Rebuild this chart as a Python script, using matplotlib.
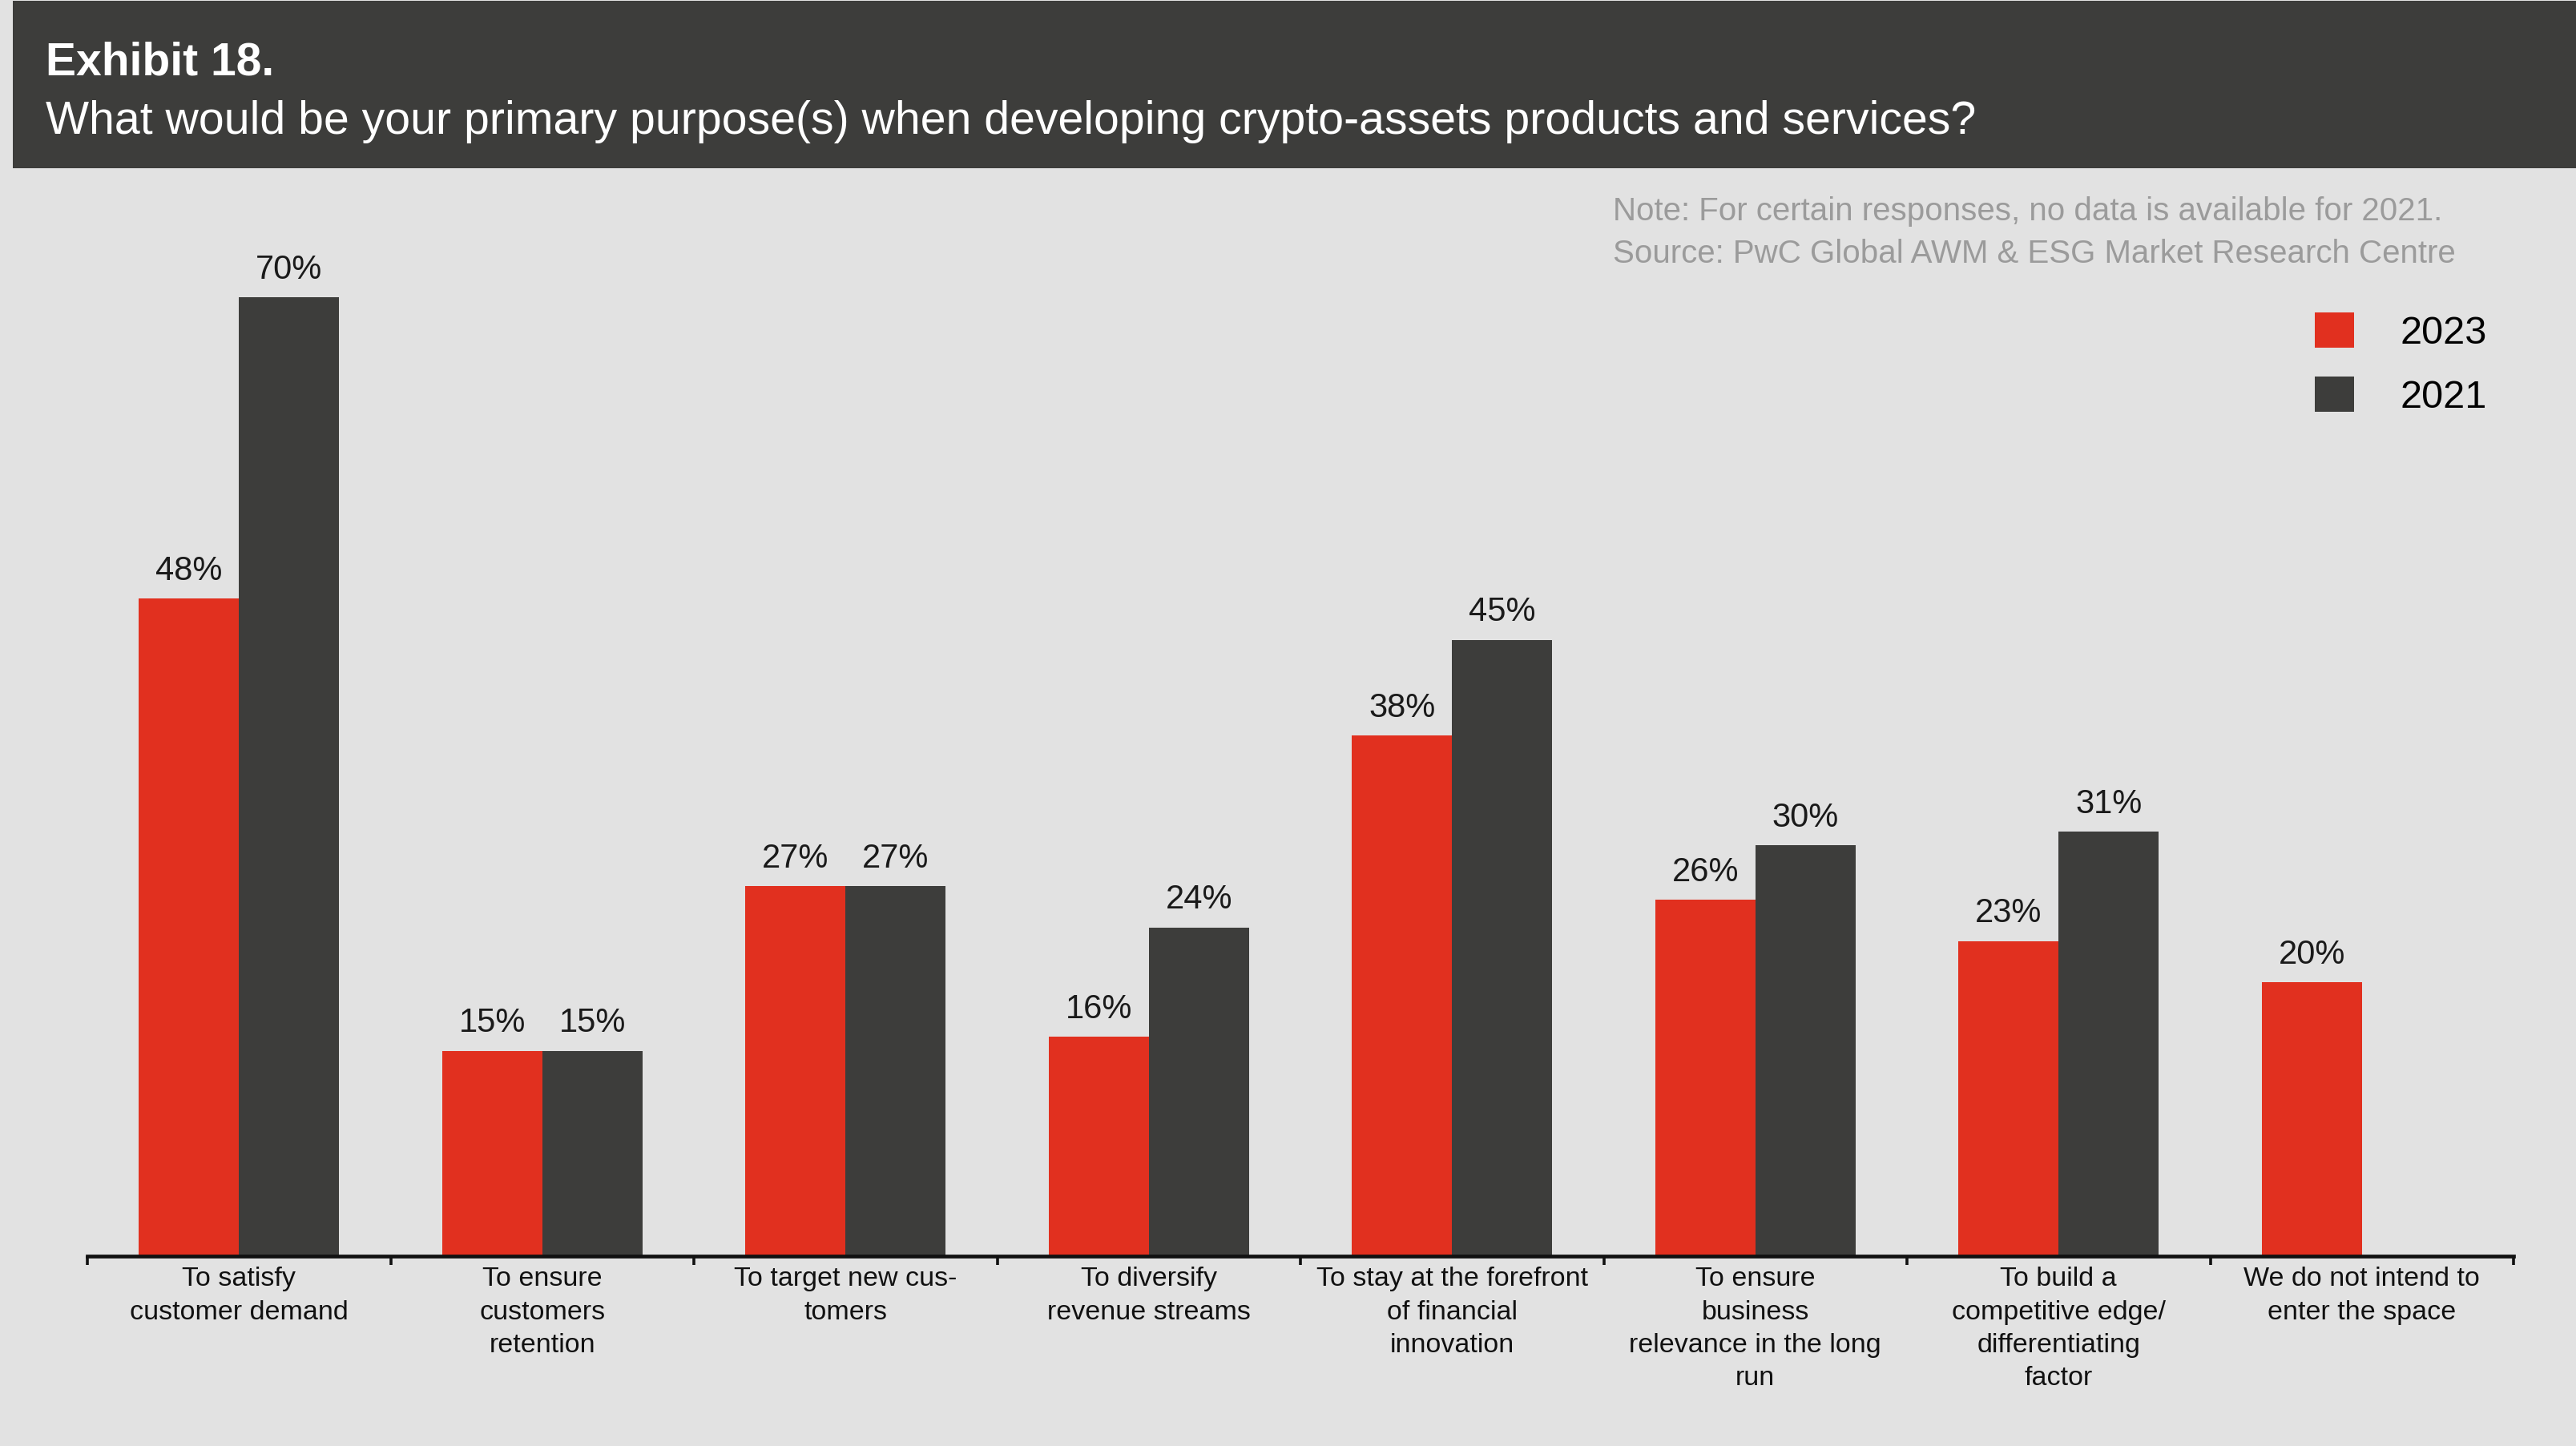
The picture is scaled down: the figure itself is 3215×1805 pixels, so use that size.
import matplotlib.pyplot as plt
from matplotlib.patches import Rectangle, Patch
import numpy as np

# Survey answers and shares (%)
categories = [
    "To satisfy\ncustomer demand",
    "To ensure\ncustomers\nretention",
    "To target new cus-\ntomers",
    "To diversify\nrevenue streams",
    "To stay at the forefront\nof financial\ninnovation",
    "To ensure\nbusiness\nrelevance in the long\nrun",
    "To build a\ncompetitive edge/\ndifferentiating\nfactor",
    "We do not intend to\nenter the space",
]
share_2023 = [48, 15, 27, 16, 38, 26, 23, 20]
share_2021 = [70, 15, 27, 24, 45, 30, 31, None]  # no 2021 data for the last answer

RED = '#e1301f'
DARK = '#3d3d3b'
BG = '#e2e2e2'
FONT = 'Liberation Sans'

W, H = 3215, 1806
fig = plt.figure(figsize=(W / 100, H / 100), dpi=100, facecolor=BG)

# Header band
fig.patches.append(Rectangle((16 / W, 1 - 211 / H), 1 - 16 / W, 209 / H,
                             transform=fig.transFigure, facecolor=DARK,
                             edgecolor='none', zorder=0))
fig.text(57 / W, 1 - 94 / H, 'Exhibit 18.', color='white', fontsize=41,
         fontweight='bold', family=FONT, va='baseline')
fig.text(57 / W, 1 - 167 / H,
         'What would be your primary purpose(s) when developing crypto-assets products and services?',
         color='white', fontsize=41.2, family=FONT, va='baseline')

# Note / source
fig.text(2013 / W, 1 - 275 / H,
         'Note: For certain responses, no data is available for 2021.',
         color='#9b9b9b', fontsize=29, family=FONT, va='baseline')
fig.text(2013 / W, 1 - 328 / H,
         'Source: PwC Global AWM & ESG Market Research Centre',
         color='#9b9b9b', fontsize=29, family=FONT, va='baseline')

# Plot area
left, right, base = 109, 3137, 1569
ymax = 80
px_per_pct = 17.1
ax = fig.add_axes([left / W, (H - base) / H, (right - left) / W,
                   ymax * px_per_pct / H])
ax.set_facecolor('none')
ax.patch.set_alpha(0)

x = np.arange(len(categories))
bw = 0.33
r_vals = np.array(share_2023, dtype=float)
d_idx = [i for i, v in enumerate(share_2021) if v is not None]
d_vals = np.array([share_2021[i] for i in d_idx], dtype=float)

bars_r = ax.bar(x - bw / 2, r_vals, width=bw, color=RED, zorder=2)
bars_d = ax.bar(x[d_idx] + bw / 2, d_vals, width=bw, color=DARK, zorder=2)

for bars in (bars_r, bars_d):
    for b in bars:
        h = b.get_height()
        ax.annotate(f'{h:.0f}%', (b.get_x() + b.get_width() / 2, h),
                    xytext=(0, 11), textcoords='offset points',
                    ha='center', va='bottom', fontsize=30, family=FONT,
                    color='#1a1a1a')

ax.set_xlim(-0.5, len(categories) - 0.5)
ax.set_ylim(0, ymax)
for s in ('top', 'right', 'left'):
    ax.spines[s].set_visible(False)
ax.spines['bottom'].set_linewidth(3.4)
ax.spines['bottom'].set_color('#111111')
ax.set_yticks([])

ax.set_xticks(x)
ax.set_xticklabels(categories, fontsize=24.5, family=FONT, linespacing=1.42,
                   color='#111111')
ax.tick_params(axis='x', which='major', length=0, pad=9)
ax.set_xticks(np.arange(-0.5, len(categories)), minor=True)
ax.tick_params(axis='x', which='minor', length=8, width=2.6, color='#111111',
               direction='out')

# Legend
handles = [Patch(facecolor=RED, edgecolor='none', label='2023'),
           Patch(facecolor=DARK, edgecolor='none', label='2021')]
fig.legend(handles=handles, loc='upper left',
           bbox_to_anchor=(2889 / W, 1 - 391 / H), frameon=False,
           prop={'family': FONT, 'size': 35}, handlelength=1.0,
           handleheight=1.0, handletextpad=1.2, labelspacing=0.65,
           borderpad=0, borderaxespad=0)

fig.savefig('out.png', dpi=100, facecolor=BG)
